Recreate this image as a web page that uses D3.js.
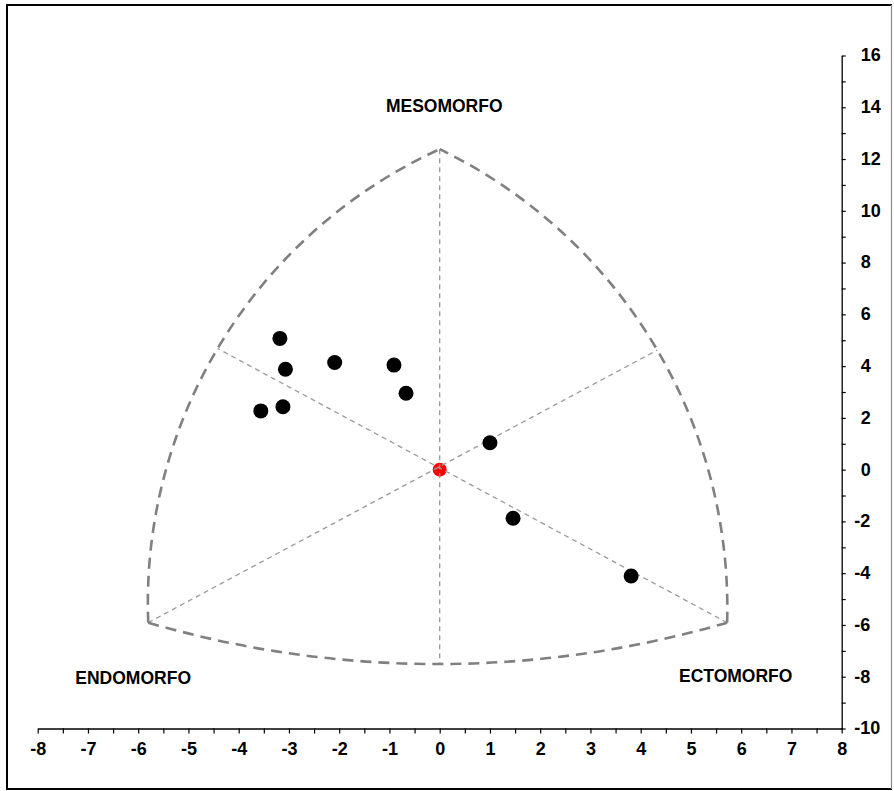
<!DOCTYPE html>
<html>
<head>
<meta charset="utf-8">
<script src="https://cdn.jsdelivr.net/npm/d3@7/dist/d3.min.js"></script>
<style>
  html, body { margin: 0; padding: 0; background: #fff; }
  svg { display: block; }
  text { font-family: "Liberation Sans", Arial, sans-serif; font-weight: bold; fill: #000; }
</style>
</head>
<body>
<svg id="chart" width="894" height="791"></svg>
<script>
// ---- data ----
const xTickValues = [-8, -7, -6, -5, -4, -3, -2, -1, 0, 1, 2, 3, 4, 5, 6, 7, 8];
const xMinorTicks = [-7.5, -6.5, -5.5, -4.5, -3.5, -2.5, -1.5, -0.5, 0.5, 1.5, 2.5, 3.5, 4.5, 5.5, 6.5, 7.5];
const yTickValues = [-10, -8, -6, -4, -2, 0, 2, 4, 6, 8, 10, 12, 14, 16];
const yMinorTicks = [-9, -7, -5, -3, -1, 1, 3, 5, 7, 9, 11, 13, 15];

// individual somatotypes (X, Y)
const somaX = [-3.18, -3.07, -2.09, -0.91, -0.67, -3.56, -3.12, 1.00, 1.46, 3.81];
const somaY = [5.07, 3.88, 4.14, 4.04, 2.95, 2.27, 2.43, 1.04, -1.88, -4.11];

// mean somatotype
const meanX = [0];
const meanY = [0];

// somatochart vertices: mesomorph, endomorph, ectomorph
const vertexX = [0.00, -5.80, 5.72];
const vertexY = [12.38, -5.91, -5.91];
// outline arcs: each drawn through start vertex, a mid point and end vertex
const arcMidX = [-4.42, 4.33, 0.00];   // left, right, bottom
const arcMidY = [4.68, 4.62, -7.51];

// inner axes of the somatochart (start, end)
const innerLinesX = [[0, 0], [-5.80, 4.33], [5.72, -4.42]];
const innerLinesY = [[12.38, -7.51], [-5.91, 4.62], [-5.91, 4.68]];

const labelText = ["MESOMORFO", "ENDOMORFO", "ECTOMORFO"];
const labelX = [0.09, -6.1, 5.89];
const labelY = [13.8, -8.3, -8.2];

// ---- drawing ----
const svg = d3.select("#chart");
const x = d3.scaleLinear().domain([-8, 8]).range([37.7, 841.7]);
const y = d3.scaleLinear().domain([-10, 16]).range([728.5, 55.5]);

// frame
svg.append("path")
  .attr("d", "M892,789 L7,789 L7,5 L892,5")
  .attr("fill", "none").attr("stroke", "#000").attr("stroke-width", 2);
svg.append("line")
  .attr("x1", 891.5).attr("x2", 891.5).attr("y1", 5).attr("y2", 789)
  .attr("stroke", "#8a8a8a").attr("stroke-width", 1.2);

// mean point (beneath the dashed inner lines)
svg.append("g").selectAll("circle")
  .data(meanX.map((d, i) => [d, meanY[i]]))
  .join("circle")
  .attr("cx", d => x(d[0])).attr("cy", d => y(d[1])).attr("r", 7)
  .attr("fill", "#ff0000");

// inner lines
svg.append("g").selectAll("line")
  .data(innerLinesX.map((d, i) => [d, innerLinesY[i]]))
  .join("line")
  .attr("x1", d => x(d[0][0])).attr("y1", d => y(d[1][0]))
  .attr("x2", d => x(d[0][1])).attr("y2", d => y(d[1][1]))
  .attr("stroke", "#9a9a9a").attr("stroke-width", 1.3)
  .attr("stroke-dasharray", "5,4");

// outline arcs: circular arcs (in screen space) through three scaled points
function arcPath(p0, p1, p2) {
  const [ax, ay] = p0, [bx, by] = p1, [cx, cy] = p2;
  const d = 2 * (ax * (by - cy) + bx * (cy - ay) + cx * (ay - by));
  const ux = ((ax*ax + ay*ay) * (by - cy) + (bx*bx + by*by) * (cy - ay) + (cx*cx + cy*cy) * (ay - by)) / d;
  const uy = ((ax*ax + ay*ay) * (cx - bx) + (bx*bx + by*by) * (ax - cx) + (cx*cx + cy*cy) * (bx - ax)) / d;
  const r = Math.hypot(ax - ux, ay - uy);
  const cross = (bx - ax) * (cy - ay) - (by - ay) * (cx - ax);
  const sweep = cross > 0 ? 1 : 0;
  return `M${ax},${ay} A${r},${r} 0 0 ${sweep} ${cx},${cy}`;
}
const P = (vx, vy) => [x(vx), y(vy)];
const arcs = [
  [P(vertexX[1], vertexY[1]), P(arcMidX[0], arcMidY[0]), P(vertexX[0], vertexY[0])],
  [P(vertexX[2], vertexY[2]), P(arcMidX[1], arcMidY[1]), P(vertexX[0], vertexY[0])],
  [P(vertexX[1], vertexY[1]), P(arcMidX[2], arcMidY[2]), P(vertexX[2], vertexY[2])]
];
svg.append("g").selectAll("path")
  .data(arcs)
  .join("path")
  .attr("d", d => arcPath(d[0], d[1], d[2]))
  .attr("fill", "none")
  .attr("stroke", "#808080").attr("stroke-width", 2.6)
  .attr("stroke-dasharray", "11,7");

// individual points
svg.append("g").selectAll("circle")
  .data(somaX.map((d, i) => [d, somaY[i]]))
  .join("circle")
  .attr("cx", d => x(d[0])).attr("cy", d => y(d[1])).attr("r", 7.5)
  .attr("fill", "#000");

// labels
svg.append("g").selectAll("text")
  .data(labelText.map((t, i) => ({ t, x: labelX[i], y: labelY[i] })))
  .join("text")
  .attr("x", d => x(d.x)).attr("y", d => y(d.y))
  .attr("text-anchor", "middle")
  .style("font-size", "17.5px")
  .text(d => d.t);

const fontStyle = sel => sel.style("font-size", "18px")
  .style("font-family", "'Liberation Sans', Arial, sans-serif")
  .style("font-weight", "bold").attr("fill", "#000");

// x axis
const gx = svg.append("g").attr("transform", `translate(0,${y(-10)})`);
const gxMajor = gx.append("g").call(d3.axisBottom(x).tickValues(xTickValues).tickSize(5).tickSizeOuter(0).tickPadding(9)
  .tickFormat(d => String(d)));
const gxMinor = gx.append("g").call(d3.axisBottom(x).tickValues(xMinorTicks).tickSize(5).tickSizeOuter(0).tickFormat(() => ""));
gxMinor.select(".domain").remove();
gxMinor.selectAll(".tick text").remove();
gx.selectAll("path.domain").attr("stroke", "#000").attr("stroke-width", 1.3);
gx.selectAll(".tick line").attr("stroke", "#000").attr("stroke-width", 1.2);
gxMajor.selectAll(".tick text").call(fontStyle);

// y axis
const gy = svg.append("g").attr("transform", `translate(${x(8)},0)`);
const gyMajor = gy.append("g").call(d3.axisRight(y).tickValues(yTickValues).tickSize(4).tickSizeOuter(0).tickPadding(15)
  .tickFormat(d => String(d)));
const gyMinor = gy.append("g").call(d3.axisRight(y).tickValues(yMinorTicks).tickSize(4).tickSizeOuter(0).tickFormat(() => ""));
gyMinor.select(".domain").remove();
gyMinor.selectAll(".tick text").remove();
gy.selectAll("path.domain").attr("stroke", "#000").attr("stroke-width", 1.3);
gy.selectAll(".tick line").attr("stroke", "#000").attr("stroke-width", 1.2);
gyMajor.selectAll(".tick text")
  .call(fontStyle)
  .attr("text-anchor", "start")
  .attr("x", 19)
  .attr("dx", d => d < 0 ? "-0.36em" : 0)
  .attr("dy", "0.3em");
</script>
</body>
</html>
